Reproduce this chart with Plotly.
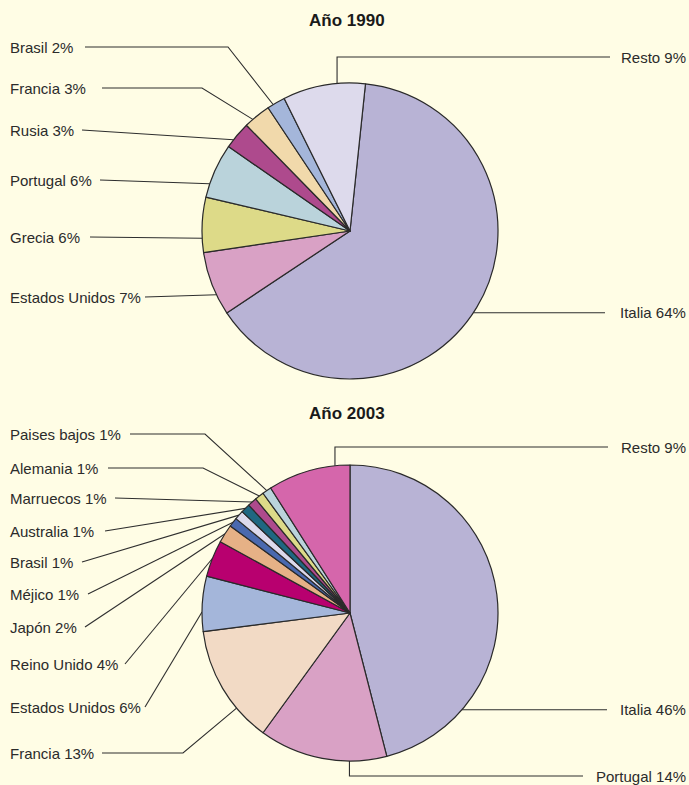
import math
import plotly.graph_objects as go

W, H = 689, 785

# ---- data ----
labels_1990 = ["Italia", "Estados Unidos", "Grecia", "Portugal", "Rusia", "Francia", "Brasil", "Resto"]
values_1990 = [64, 7, 6, 6, 3, 3, 2, 9]
colors_1990 = ["#B8B3D5", "#D9A1C5", "#DDDA88", "#BAD3DB", "#AE4A8D", "#F1D9AB", "#A4B6DA", "#DDDAEC"]

labels_2003 = ["Italia", "Portugal", "Francia", "Estados Unidos", "Reino Unido", "Japón", "Méjico",
               "Brasil", "Australia", "Marruecos", "Alemania", "Paises bajos", "Resto"]
values_2003 = [46, 14, 13, 6, 4, 2, 1, 1, 1, 1, 1, 1, 9]
colors_2003 = ["#B8B3D5", "#D9A1C5", "#F2DAC5", "#A4B6DA", "#B8006F", "#E6B186", "#4A69AF",
               "#DDDAEC", "#1F6781", "#AE4A8D", "#DDDA88", "#BAD3DB", "#D566AB"]

titles = ["Año 1990", "Año 2003"]

# ---- layout of each pie (pixels, y downwards) ----
BG = "#FFFDE5"
LINE = "#2e2e2e"
TXT = "#2b2b2b"
LABEL_FONT = dict(family="Liberation Sans, Arial, sans-serif", size=15, color=TXT)
TITLE_FONT = dict(family="Liberation Sans, Arial, sans-serif", size=17, color="#1a1a1a")
R = 148

# label placement: side, label y, line start x (left) / line end x (right), elbow x, anchor fraction
place_1990 = {
    "Brasil":         ("L", 47, 85, 228, 0.32),
    "Francia":        ("L", 88, 102, 202, 0.31),
    "Rusia":          ("L", 130, 82, None, 0.30),
    "Portugal":       ("L", 180, 100, None, 0.25),
    "Grecia":         ("L", 237, 90, None, 0.26),
    "Estados Unidos": ("L", 297, 145, None, 0.32),
    "Resto":          ("V", 57, 610, None, 0.66),
    "Italia":         ("H", None, 605, None, 0.51),
}
place_2003 = {
    "Paises bajos":   ("L", 434, 130, 205, 0.5),
    "Alemania":       ("L", 468, 108, 203, 0.5),
    "Marruecos":      ("L", 498, 115, None, 0.5),
    "Australia":      ("L", 531, 105, None, 0.5),
    "Brasil":         ("L", 562, 82, None, 0.5),
    "Méjico":         ("L", 594, 88, None, 0.5),
    "Japón":          ("L", 627, 85, None, 0.5),
    "Reino Unido":    ("L", 664, 125, None, 0.5),
    "Estados Unidos": ("L", 707, 145, None, 0.35),
    "Francia":        ("L", 753, 102, 183, 0.30),
    "Resto":          ("V", 447, 608, None, 0.82),
    "Italia":         ("H", None, 607, None, 0.79),
    "Portugal":       ("V", 776, 583, None, 0.29),
}

charts = [
    dict(labels=labels_1990, values=values_1990, colors=colors_1990, cx=350, cy=231,
         place=place_1990, title=titles[0], title_y=20, rotation=6),
    dict(labels=labels_2003, values=values_2003, colors=colors_2003, cx=350, cy=613,
         place=place_2003, title=titles[1], title_y=413, rotation=0),
]

fig = go.Figure()
annotations = []

for ch in charts:
    cx, cy = ch["cx"], ch["cy"]
    fig.add_trace(go.Pie(
        labels=ch["labels"], values=ch["values"], sort=False, direction="clockwise",
        rotation=ch["rotation"], textinfo="none", hoverinfo="label+percent",
        marker=dict(colors=ch["colors"], line=dict(color="#2a2a2a", width=1.2)),
        domain=dict(x=[(cx - R) / W, (cx + R) / W],
                    y=[(H - cy - R) / H, (H - cy + R) / H]),
        showlegend=False,
    ))

    total = sum(ch["values"])
    start = ch["rotation"]
    xs, ys = [], []
    for name, v in zip(ch["labels"], ch["values"]):
        span = 360.0 * v / total
        side, ly, lx, ex, frac = ch["place"][name]
        ang = math.radians(start + span * frac)
        ax_, ay_ = cx + R * math.sin(ang), cy - R * math.cos(ang)
        start += span
        text = f"{name} {v}%"
        if side == "L":
            pts = [(lx, ly)]
            if ex is not None:
                pts.append((ex, ly))
            pts.append((ax_, ay_))
            annotations.append(dict(x=8, y=ly, text=text, xanchor="left"))
        elif side == "H":
            pts = [(ax_, ay_), (lx, ay_)]
            annotations.append(dict(x=688, y=ay_, text=text, xanchor="right"))
        else:
            pts = [(ax_, ay_), (ax_, ly), (lx, ly)]
            annotations.append(dict(x=688, y=ly, text=text, xanchor="right"))
        for px, py in pts:
            xs.append(px)
            ys.append(py)
        xs.append(None)
        ys.append(None)

    fig.add_trace(go.Scatter(x=xs, y=ys, mode="lines", line=dict(color=LINE, width=1.1),
                             hoverinfo="skip", showlegend=False, xaxis="x", yaxis="y"))
    annotations.append(dict(x=cx - 3, y=ch["title_y"], text=f"<b>{ch['title']}</b>",
                            xanchor="center", font=TITLE_FONT))

for a in annotations:
    a.setdefault("font", LABEL_FONT)
    a.update(xref="x", yref="y", yanchor="middle", showarrow=False)

fig.update_layout(
    width=W, height=H,
    margin=dict(l=0, r=0, t=0, b=0),
    paper_bgcolor=BG, plot_bgcolor=BG,
    xaxis=dict(range=[0, W], visible=False, fixedrange=True, domain=[0, 1]),
    yaxis=dict(range=[H, 0], visible=False, fixedrange=True, domain=[0, 1]),
    annotations=annotations,
)

fig.write_html("out.html")
